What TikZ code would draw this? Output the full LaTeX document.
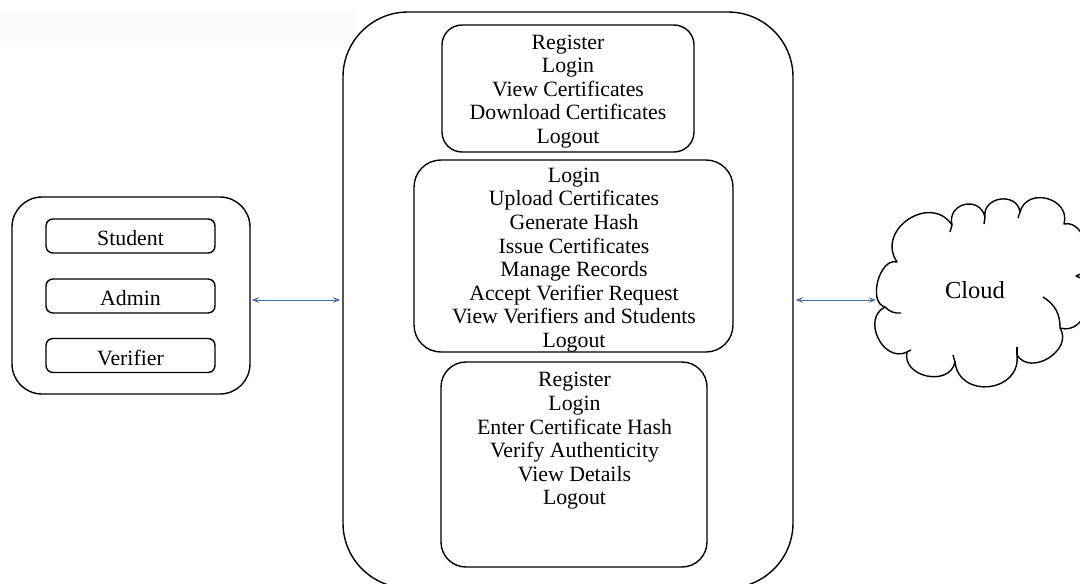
\documentclass[tikz,border=0pt]{standalone}
\usepackage{fontspec}
\setmainfont{Liberation Serif}
\usetikzlibrary{arrows.meta}
\definecolor{arrblue}{RGB}{79,114,180}
\definecolor{faint}{RGB}{250,250,250}
\begin{document}
\begin{tikzpicture}[x=1pt,y=-1pt,
  box/.style={draw=black, line width=1.4pt, rounded corners=#1, inner sep=0pt},
  box/.default=8pt,
  txt/.style={inner sep=0pt, align=center, font=\fontsize{21.8}{23.6}\selectfont},
  arr/.style={draw=arrblue, line width=0.9pt,
              {Stealth[length=7pt,width=5.5pt]}-{Stealth[length=7pt,width=5.5pt]}},
  cloudline/.style={draw=black, line width=1.4pt, line join=round}]
\useasboundingbox (0,0) rectangle (1080,584);
\clip (0,0) rectangle (1080,584);
\fill[faint] (0,12) rectangle (355,42);

% main container
\node[box=65pt, minimum width=450pt, minimum height=576pt] (main) at (568,300) {};

% role boxes inside main
\node[box=20pt, minimum width=252pt, minimum height=127pt] (studentops) at (568,88.5) {};
\node[txt] (studenttext) at (568,91.5)
  {Register\\Login\\View Certificates\\Download Certificates\\Logout};
\node[box=27pt, minimum width=319pt, minimum height=192pt] (adminops) at (573.5,256) {};
\node[txt] (admintext) at (574,260)
  {Login\\Upload Certificates\\Generate Hash\\Issue Certificates\\Manage Records\\Accept Verifier Request\\View Verifiers and Students\\Logout};
\node[box=25pt, minimum width=266pt, minimum height=205pt] (verifierops) at (574,464.5) {};
\node[txt] (verifiertext) at (574.5,441)
  {Register\\Login\\Enter Certificate Hash\\Verify Authenticity\\View Details\\Logout};

% users box
\node[box=30pt, minimum width=238pt, minimum height=197pt] (users) at (131,295.5) {};
\node[box=7pt, minimum width=169pt, minimum height=34pt] (student) at (130.5,236) {};
\node[txt] (studentlbl) at (130.5,238) {Student};
\node[box=7pt, minimum width=169pt, minimum height=34pt] (admin) at (130.5,296) {};
\node[txt] (adminlbl) at (130.5,298) {Admin};
\node[box=7pt, minimum width=169pt, minimum height=34pt] (verifier) at (130.5,355.5) {};
\node[txt] (verifierlbl) at (130.5,357.5) {Verifier};

% cloud
\draw[cloudline]
  (885,307) to[bend left=90, looseness=1.0] (897,262)
            to[bend left=90, looseness=1.5] (952,225)
            to[bend left=90, looseness=1.7] (985,217)
            to[bend left=90, looseness=1.5] (1020,212)
            to[bend left=90, looseness=1.5] (1064,224)
            to[bend left=90, looseness=1.1] (1076,276)
            to[bend left=90, looseness=1.3] (1060,328)
            to[bend left=90, looseness=1.3] (1017,355)
            to[bend left=90, looseness=1.55] (955,362)
            to[bend left=90, looseness=1.35] (907,352)
            to[bend left=90, looseness=1.35] cycle;
\draw[cloudline] (885,307) to[bend right=25] (901,313);
\draw[cloudline] (1043,297) to[bend left=30] (1060,328);
\draw[cloudline] (1017,355) -- (1017,347);
\draw[cloudline] (952,225) -- (950,232);
\draw[cloudline] (985,217) -- (984,224);
\draw[cloudline] (1020,212) -- (1018,218);
\draw[cloudline] (907,352) -- (911,350);
\draw[cloudline] (955,362) -- (953,355);
\node[inner sep=0pt, font=\fontsize{24.5}{28}\selectfont] (cloudtext) at (975,290) {Cloud};
\coordinate (cloudL) at (877,300);

% connectors
\draw[arr, shorten <=1pt, shorten >=2pt] (users.east |- main.west) -- (main.west);
\draw[arr, shorten <=2pt, shorten >=1pt] (main.east) -- (cloudL);
\end{tikzpicture}
\end{document}
